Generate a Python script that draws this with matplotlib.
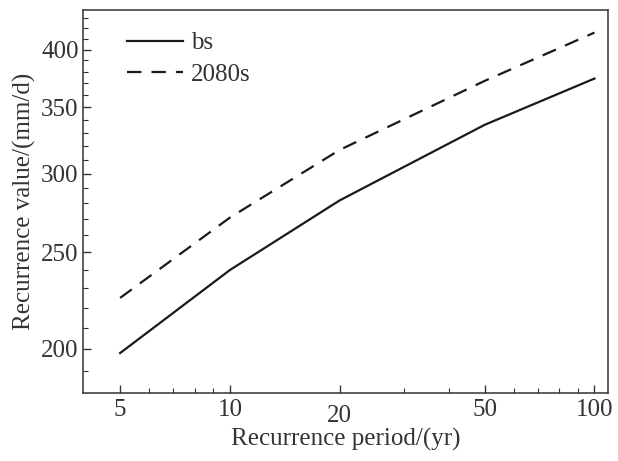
import numpy as np
import matplotlib
matplotlib.use('Agg')
import matplotlib.pyplot as plt
from matplotlib.ticker import FixedLocator, NullFormatter
import matplotlib.transforms as mtransforms

plt.rcParams['font.family'] = ['Liberation Serif', 'DejaVu Serif']

# return periods (yr) and recurrence values (mm/d)
period = [5, 10, 20, 50, 100]
bs = [198, 240, 282, 336, 374]
s2080 = [225, 271, 317, 372, 416]

x_ticks = [5, 10, 20, 50, 100]
y_ticks = [200, 250, 300, 350, 400]

fs = 18
fig = plt.figure(figsize=(6.18, 4.61), dpi=100)
ax = fig.add_axes([0.134, 0.1475, 0.85, 0.83])

ax.plot(period, bs, color='#1a1a1a', lw=1.6, label='bs')
ax.plot(period, s2080, color='#1a1a1a', lw=1.6, dashes=(6.5, 4.5), label='2080s')

ax.set_xscale('log')
ax.set_yscale('log')
ax.set_xlim(3.95, 109)
ax.set_ylim(180.5, 438)

ax.xaxis.set_major_locator(FixedLocator(x_ticks))
ax.xaxis.set_minor_locator(FixedLocator([6, 7, 8, 9, 30, 40, 60, 70, 80, 90]))
ax.set_xticklabels([str(v) for v in x_ticks])
ax.xaxis.set_minor_formatter(NullFormatter())

ax.yaxis.set_major_locator(FixedLocator(y_ticks))
ax.yaxis.set_minor_locator(FixedLocator([v for v in range(190, 440, 10) if v not in y_ticks]))
ax.set_yticklabels([str(v) for v in y_ticks])
ax.yaxis.set_minor_formatter(NullFormatter())

ax.tick_params(which='both', direction='in', top=False, right=False, labelsize=fs, colors='#333333')
ax.tick_params(which='major', length=6, width=1)
ax.tick_params(which='minor', length=3.5, width=0.8)
ax.tick_params(axis='x', pad=4)
ax.tick_params(axis='y', pad=3)

# the "20" label sits a little lower in the original
lbl = ax.get_xticklabels()[2]
lbl.set_transform(lbl.get_transform() + mtransforms.ScaledTranslation(0, -4.5 / 72, fig.dpi_scale_trans))

for sp in ax.spines.values():
    sp.set_linewidth(1.1)
    sp.set_color('#333333')

ax.set_xlabel('Recurrence period/(yr)', fontsize=fs, color='#333333', labelpad=1)
ax.set_ylabel('Recurrence value/(mm/d)', fontsize=fs, color='#333333', labelpad=4)

leg = ax.legend(loc='upper left', frameon=False, fontsize=fs, handlelength=2.25,
                handletextpad=0.3, labelspacing=0.36, borderaxespad=0,
                bbox_to_anchor=(0.065, 0.97))
for t in leg.get_texts():
    t.set_color('#333333')

fig.savefig('out.png', dpi=100)
